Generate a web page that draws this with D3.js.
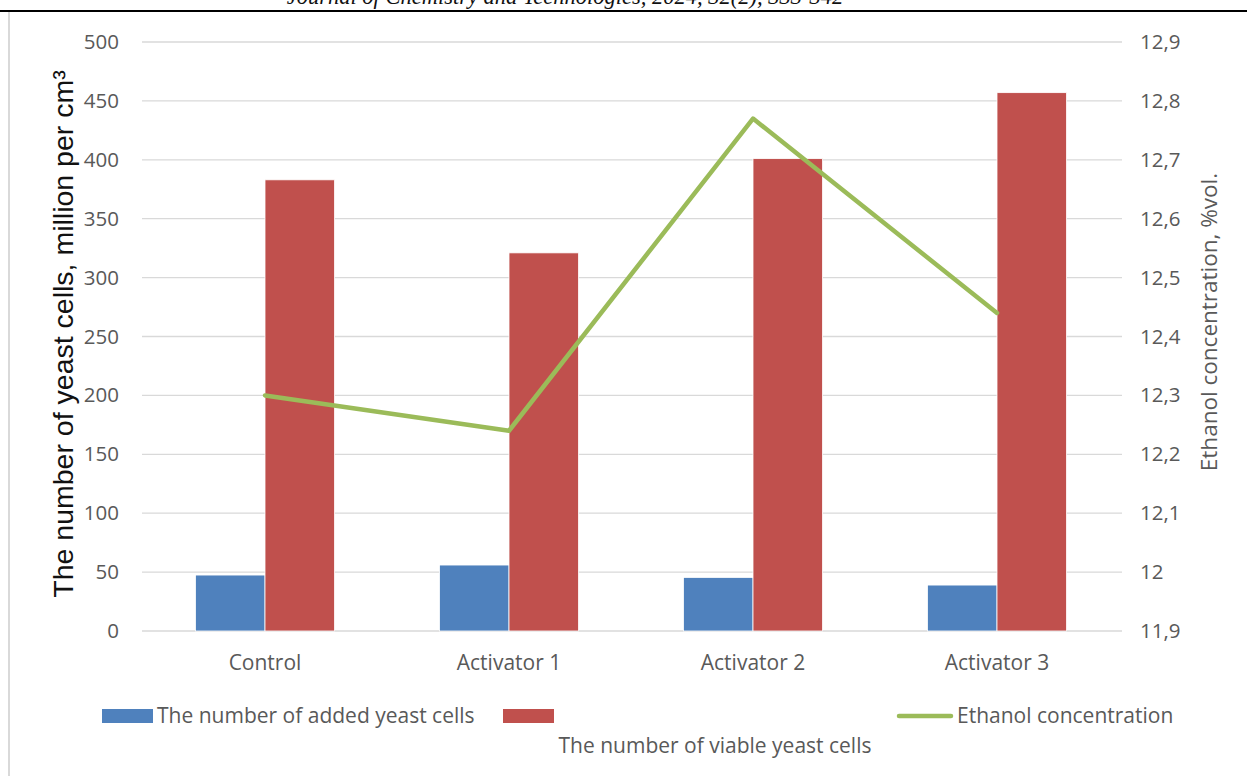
<!DOCTYPE html>
<html>
<head>
<meta charset="utf-8">
<script src="https://d3js.org/d3.v7.min.js"></script>
<style>
  body { margin: 0; background: #fff; }
  svg { display: block; }
</style>
</head>
<body>
<svg id="chart" width="1247" height="776"></svg>
<script>
  // data
  const categories = ["Control", "Activator 1", "Activator 2", "Activator 3"];
  const addedCells = [47.5, 56, 45.5, 39];
  const viableCells = [383, 321, 401, 457];
  const ethanol = [12.30, 12.24, 12.77, 12.44];
  const seriesNames = ["The number of added yeast cells", "The number of viable yeast cells", "Ethanol concentration"];
  const barColors = ["#4F81BD", "#C0504D"];
  const lineColor = "#9BBB59";

  const svg = d3.select("#chart");
  const tickFont = "'Open Sans', sans-serif";

  // journal header, cut off at top
  svg.append("text")
    .attr("x", 565).attr("y", 4)
    .attr("text-anchor", "middle")
    .style("font-family", "'Liberation Serif', serif")
    .style("font-style", "italic")
    .style("font-size", "22.5px")
    .style("fill", "#111")
    .text("Journal of Chemistry and Technologies, 2024, 32(2), 333-342");

  svg.append("line")
    .attr("x1", 0).attr("x2", 1247).attr("y1", 11).attr("y2", 11)
    .style("stroke", "#000").style("stroke-width", 2);

  svg.append("line")
    .attr("x1", 9).attr("x2", 9).attr("y1", 12).attr("y2", 776)
    .style("stroke", "#d9d9d9").style("stroke-width", 2);

  const plotL = 143, plotR = 1119, plotT = 42, plotB = 631;

  const x0 = d3.scaleBand().domain(categories).range([plotL, plotR])
    .paddingInner(0.43).paddingOuter(0.215);
  const x1 = d3.scaleBand().domain([0, 1]).range([0, x0.bandwidth()]);
  const y = d3.scaleLinear().domain([0, 500]).range([plotB, plotT]);
  const y2 = d3.scaleLinear().domain([11.9, 12.9]).range([plotB, plotT]);

  // gridlines
  const yTicks = d3.range(0, 501, 50);
  svg.append("g").selectAll("line").data(yTicks).join("line")
    .attr("x1", plotL - 1).attr("x2", plotR + 3)
    .attr("y1", d => y(d)).attr("y2", d => y(d))
    .style("stroke", "#d9d9d9").style("stroke-width", 1.3);

  // left axis
  const leftAxis = svg.append("g")
    .attr("transform", `translate(${plotL - 1},0)`)
    .call(d3.axisLeft(y).tickValues(yTicks).tickSize(0).tickPadding(23));
  leftAxis.select(".domain").remove();
  leftAxis.selectAll("text")
    .style("font-family", tickFont).style("font-size", "20.5px").style("fill", "#595959");

  // right axis
  const y2Ticks = d3.range(0, 11).map(i => +(11.9 + i * 0.1).toFixed(1));
  const fmt = d => String(d).replace(".", ",");
  const rightAxis = svg.append("g")
    .attr("transform", `translate(${plotR + 3},0)`)
    .call(d3.axisRight(y2).tickValues(y2Ticks).tickFormat(fmt).tickSize(0).tickPadding(18));
  rightAxis.select(".domain").remove();
  rightAxis.selectAll("text")
    .style("font-family", tickFont).style("font-size", "20.5px").style("fill", "#595959");

  // category axis labels
  svg.append("g").selectAll("text").data(categories).join("text")
    .attr("x", d => x0(d) + x0.bandwidth() / 2)
    .attr("y", 670)
    .attr("text-anchor", "middle")
    .style("font-family", tickFont).style("font-size", "21px").style("fill", "#595959")
    .text(d => d);

  // bars
  const barData = categories.map((c, i) => ({ c, vals: [addedCells[i], viableCells[i]] }));
  svg.append("g").selectAll("g").data(barData).join("g")
    .attr("transform", d => `translate(${x0(d.c)},0)`)
    .selectAll("rect").data(d => d.vals.map((v, k) => ({ v, k }))).join("rect")
    .attr("x", d => x1(d.k))
    .attr("width", x1.bandwidth())
    .attr("y", d => y(d.v))
    .attr("height", d => y(0) - y(d.v))
    .style("fill", d => barColors[d.k])
    .style("stroke", "#fff").style("stroke-width", 0.8);

  // ethanol line
  const line = d3.line()
    .x((d, i) => x0(categories[i]) + x0.bandwidth() / 2)
    .y(d => y2(d));
  svg.append("path")
    .datum(ethanol)
    .attr("d", line)
    .style("fill", "none")
    .style("stroke", lineColor)
    .style("stroke-width", 4.5)
    .style("stroke-linejoin", "round")
    .style("stroke-linecap", "round");

  // axis titles
  svg.append("text")
    .attr("transform", "translate(73,334) rotate(-90)")
    .attr("text-anchor", "middle")
    .style("font-family", "'Liberation Sans', Arial, sans-serif")
    .style("font-size", "28.5px").style("fill", "#111")
    .text("The number of yeast cells, million per cm³");

  svg.append("text")
    .attr("transform", "translate(1217,322) rotate(-90)")
    .attr("text-anchor", "middle")
    .style("font-family", tickFont)
    .style("font-size", "22.5px").style("fill", "#595959")
    .text("Ethanol concentration, %vol.");

  // legend
  const lg = svg.append("g").style("font-family", tickFont).style("font-size", "21px").style("fill", "#595959");
  lg.append("rect").attr("x", 102).attr("y", 709).attr("width", 51).attr("height", 14).style("fill", barColors[0]);
  lg.append("text").attr("x", 157).attr("y", 723).text(seriesNames[0]);
  lg.append("rect").attr("x", 503).attr("y", 709).attr("width", 51).attr("height", 14).style("fill", barColors[1]);
  lg.append("text").attr("x", 715).attr("y", 753).attr("text-anchor", "middle").text(seriesNames[1]);
  lg.append("line").attr("x1", 899).attr("x2", 951).attr("y1", 716).attr("y2", 716)
    .style("stroke", lineColor).style("stroke-width", 4.5).style("stroke-linecap", "round");
  lg.append("text").attr("x", 957).attr("y", 723).text(seriesNames[2]);
</script>
</body>
</html>
